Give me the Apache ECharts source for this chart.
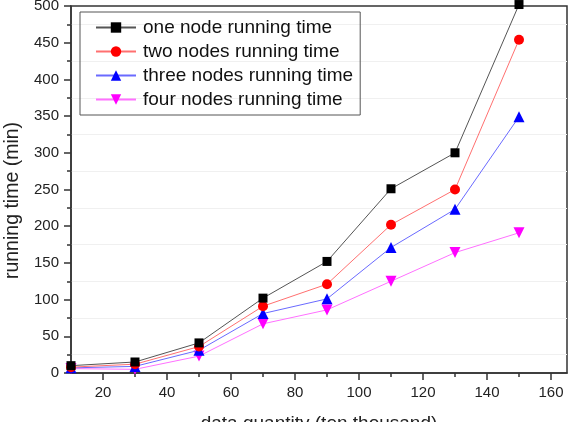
<!DOCTYPE html>
<html>
<head>
<meta charset="utf-8">
<script src="https://cdn.jsdelivr.net/npm/echarts@6/dist/echarts.min.js"></script>
<style>
html,body{margin:0;padding:0;background:#fff;}
#c{width:573px;height:422px;}
</style>
</head>
<body>
<div id="c"></div>
<script>
const xValues = [10, 30, 50, 70, 90, 110, 130, 150];
const seriesNames = ['one node running time', 'two nodes running time', 'three nodes running time', 'four nodes running time'];
const oneNode = [10, 15, 41, 102, 152, 251, 300, 502];
const twoNodes = [8, 12, 36, 91, 121, 202, 250, 454];
const threeNodes = [7, 9, 31, 81, 101, 171, 223, 349];
const fourNodes = [6, 5, 23, 67, 86, 125, 164, 191];
const xMajorTicks = [20, 40, 60, 80, 100, 120, 140, 160];
const xMinorTicks = [30, 50, 70, 90, 110, 130, 150];

const chart = echarts.init(document.getElementById('c'), null, {renderer: 'canvas'});
const font = 'Liberation Sans, Arial, sans-serif';
const colors = ['#000000', '#ff0000', '#0000ff', '#ff00ff'];
const lineColors = ['#555555', '#ff7070', '#6a6aff', '#ff70ff'];
const symbols = ['rect', 'circle', 'triangle', 'triangle'];
const rotations = [0, 0, 0, 180];
const sizes = [9, 10, 11, 11];
const allData = [oneNode, twoNodes, threeNodes, fourNodes];

const series = allData.map((vals, i) => ({
  name: seriesNames[i],
  type: 'line',
  xAxisIndex: 0,
  yAxisIndex: 0,
  data: xValues.map((x, j) => [x, vals[j]]),
  symbol: symbols[i],
  symbolRotate: rotations[i],
  symbolSize: sizes[i],
  showSymbol: true,
  clip: false,
  lineStyle: {color: lineColors[i], width: 1},
  itemStyle: {color: colors[i]},
  z: 10 - i,
  animation: false
}));

chart.setOption({
  animation: false,
  backgroundColor: '#ffffff',
  grid: {left: 71, right: 6, top: 6, bottom: 49, outerBoundsMode: 'none', containLabel: false, show: true, borderColor: '#333', borderWidth: 1.5, backgroundColor: 'transparent'},
  legend: {
    orient: 'vertical',
    left: 80,
    top: 12,
    padding: [6, 7, 6, 15],
    itemGap: 5,
    itemWidth: 40,
    itemHeight: 13,
    borderColor: '#555',
    borderWidth: 1,
    textStyle: {fontFamily: font, fontSize: 19, color: '#111', padding: [0, 0, 0, 2]},
    data: seriesNames
  },
  xAxis: [{
    type: 'value',
    min: 10, max: 165,
    position: 'bottom',
    name: 'data quantity (ten thousand)',
    nameLocation: 'middle',
    nameGap: 41,
    nameTextStyle: {fontFamily: font, fontSize: 19, color: '#222'},
    axisLine: {show: true, lineStyle: {color: '#333', width: 1.5}},
    axisTick: {show: true, inside: false, length: 7, customValues: xMajorTicks, lineStyle: {color: '#333', width: 1.5}},
    axisLabel: {show: true, customValues: xMajorTicks, margin: 12, fontFamily: font, fontSize: 15, color: '#222'},
    splitLine: {show: false}
  }, {
    type: 'value',
    min: 10, max: 165,
    position: 'bottom',
    axisLine: {show: false},
    axisTick: {show: true, length: 4, customValues: xMinorTicks, lineStyle: {color: '#333', width: 1.5}},
    axisLabel: {show: false},
    splitLine: {show: false}
  }],
  yAxis: [{
    type: 'value',
    min: 0, max: 500, interval: 50,
    name: 'running time (min)',
    nameLocation: 'middle',
    nameGap: 42,
    nameTextStyle: {fontFamily: font, fontSize: 19.5, color: '#222', padding: [0, 22, 0, 0]},
    axisLine: {show: true, lineStyle: {color: '#333', width: 1.5}},
    axisTick: {show: true, inside: false, length: 7, lineStyle: {color: '#333', width: 1.5}},
    minorTick: {show: true, splitNumber: 2, length: 4, lineStyle: {color: '#333', width: 1.5}},
    minorSplitLine: {show: true, lineStyle: {color: '#f0f0f0', width: 1}},
    axisLabel: {margin: 12, fontFamily: font, fontSize: 15, color: '#222'},
    splitLine: {show: false}
  }],
  series: series
});
</script>
</body>
</html>
